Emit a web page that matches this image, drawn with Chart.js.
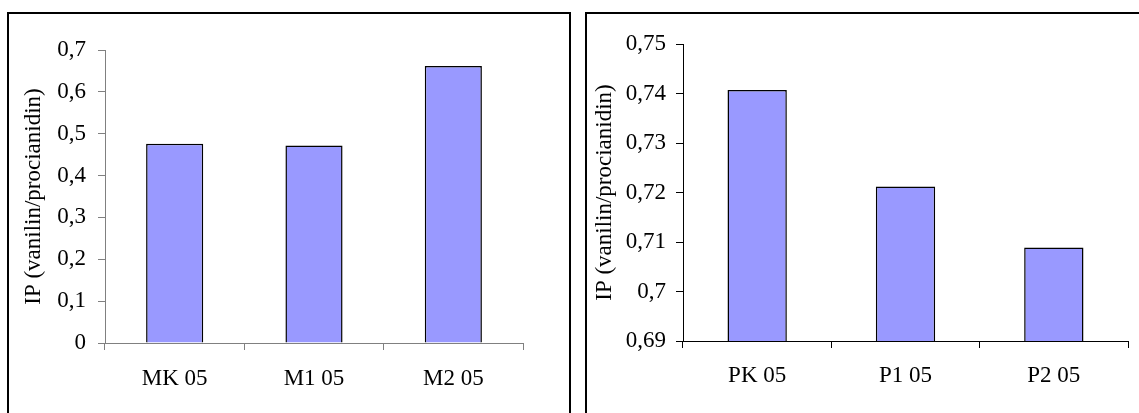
<!DOCTYPE html>
<html>
<head>
<meta charset="utf-8">
<script src="https://cdn.jsdelivr.net/npm/chart.js@4.4.1/dist/chart.umd.min.js"></script>
<style>
  html, body { margin: 0; padding: 0; background: #fff; }
  body { width: 1139px; height: 413px; overflow: hidden; position: relative; }
  .panel { position: absolute; border: 2px solid #000; box-sizing: border-box; }
  #panelLeft { left: 7px; top: 12px; width: 564px; height: 500px; }
  #panelRight { left: 585px; top: 12px; width: 700px; height: 500px; }
  canvas { position: absolute; top: 0; }
  #leftChart { left: 0; }
  #rightChart { left: 578px; }
</style>
</head>
<body>
<div class="panel" id="panelLeft"></div>
<div class="panel" id="panelRight"></div>
<canvas id="leftChart" width="578" height="413"></canvas>
<canvas id="rightChart" width="561" height="413"></canvas>

<script>
// ---------------------------------------------
// Data
// ---------------------------------------------
const leftCategories = ["MK 05", "M1 05", "M2 05"];
const leftValues = [0.476, 0.472, 0.662];

const rightCategories = ["PK 05", "P1 05", "P2 05"];
const rightValues = [0.7407, 0.7212, 0.7089];

const yTitle = "IP (vanilin/procianidin)";

const FONT = "'Liberation Serif', 'Times New Roman', serif";

// 0.7 -> "0,7", 0.69 -> "0,69"
function commaNumber(v) {
  return String(+v.toFixed(2)).replace(".", ",");
}

function makeChart(id, labels, values, opts) {
  const ctx = document.getElementById(id).getContext("2d");
  return new Chart(ctx, {
    type: "bar",
    data: {
      labels: labels,
      datasets: [{
        data: values,
        backgroundColor: "#9999FF",
        borderColor: "#000000",
        borderWidth: 1.5,
        categoryPercentage: 1,
        barPercentage: opts.barPct,
      }],
    },
    options: {
      responsive: false,
      animation: false,
      devicePixelRatio: 1,
      layout: { padding: opts.padding },
      plugins: { legend: { display: false }, tooltip: { enabled: false } },
      scales: {
        x: {
          grid: { offset: true, drawOnChartArea: false, tickLength: 7, color: opts.axisColor },
          border: { color: opts.axisColor, width: 1 },
          ticks: { color: "#000", padding: opts.xPad, font: { family: FONT, size: 23 } },
          afterFit(scale) { scale.height = 60; },
        },
        y: {
          min: opts.min,
          max: opts.max,
          grid: { drawOnChartArea: false, tickLength: 7, color: opts.axisColor },
          border: { color: opts.axisColor, width: 1 },
          ticks: {
            stepSize: opts.step,
            color: "#000",
            padding: opts.yPad,
            font: { family: FONT, size: 23 },
            callback: (v) => commaNumber(v),
          },
          title: {
            display: true,
            text: yTitle,
            color: "#000",
            font: { family: FONT, size: 23 },
            padding: { top: opts.titlePad, bottom: 0 },
          },
          afterFit(scale) { scale.width = 105; },
        },
      },
    },
  });
}

makeChart("leftChart", leftCategories, leftValues, {
  min: 0, max: 0.7, step: 0.1,
  barPct: 0.41,
  padding: { left: 0, top: 50, right: 55, bottom: 10 },
  axisColor: "#808080",
  xPad: 15, yPad: 12, titlePad: 20,
});

makeChart("rightChart", rightCategories, rightValues, {
  min: 0.69, max: 0.75, step: 0.01,
  barPct: 0.4,
  padding: { left: 0, top: 44, right: 11, bottom: 12 },
  axisColor: "#000000",
  xPad: 14, yPad: 10, titlePad: 13,
});
</script>
</body>
</html>
